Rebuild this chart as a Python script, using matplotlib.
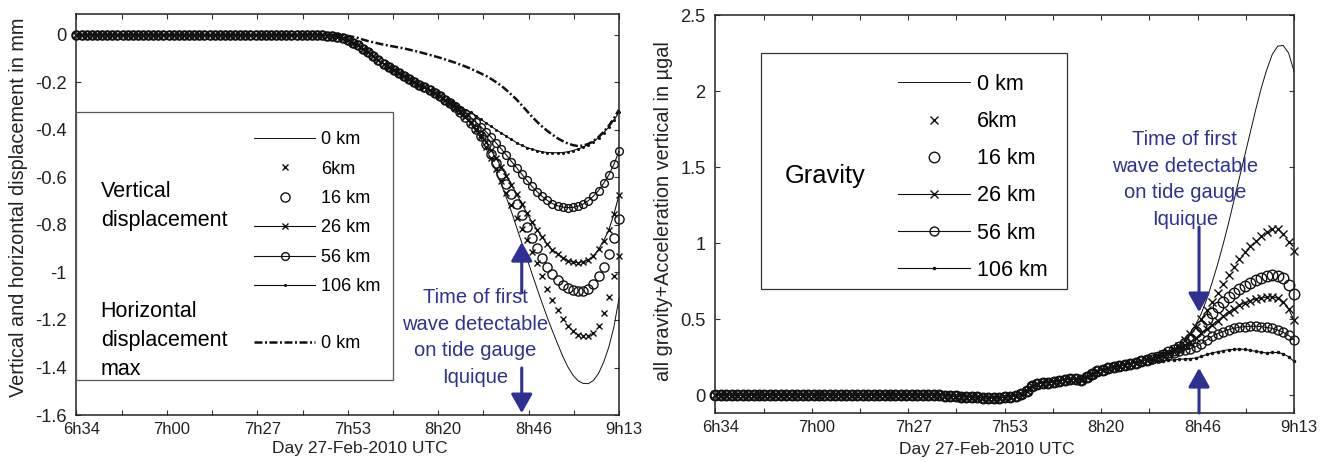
import numpy as np
import matplotlib.pyplot as plt
from matplotlib.patches import Rectangle
from matplotlib.transforms import ScaledTranslation

plt.rcParams['font.family'] = ['Liberation Sans', 'DejaVu Sans']

INK = '#111111'
BLUE = '#2e3192'

# time axis: minutes after 6h34, one sample every 1.5 min
t = np.arange(107) * 1.5
tick_pos = np.arange(13) * 13.25
tick_lab = ['6h34', '', '7h00', '', '7h27', '', '7h53', '', '8h20', '', '8h46', '', '9h13']
labels = ['0 km', '6km', '16 km', '26 km', '56 km', '106 km']

# ---- vertical displacement (mm), left panel ----
vert_start = [0.0] * 47 + [
    0.0, -0.001, -0.003, -0.006, -0.010, -0.015, -0.022, -0.032, -0.044, -0.058,
    -0.074, -0.090, -0.106, -0.122, -0.136, -0.149, -0.162, -0.174, -0.186, -0.197,
    -0.209, -0.221, -0.233, -0.246, -0.259, -0.272]
vert_0km = vert_start + [
    -0.289, -0.307, -0.326, -0.348, -0.374, -0.403, -0.435, -0.477, -0.525, -0.576,
    -0.630, -0.685, -0.745, -0.810, -0.875, -0.940, -1.005, -1.068, -1.130, -1.190,
    -1.246, -1.300, -1.352, -1.397, -1.432, -1.456, -1.467, -1.468, -1.455, -1.425,
    -1.378, -1.315, -1.230, -1.110]
vert_6km = vert_start + [
    -0.289, -0.306, -0.325, -0.347, -0.372, -0.400, -0.430, -0.470, -0.517, -0.565,
    -0.614, -0.666, -0.718, -0.770, -0.818, -0.865, -0.912, -0.962, -1.015, -1.068,
    -1.115, -1.157, -1.195, -1.225, -1.248, -1.262, -1.268, -1.266, -1.254, -1.224,
    -1.172, -1.105, -1.015, -0.930]
vert_16km = vert_start + [
    -0.288, -0.305, -0.324, -0.345, -0.370, -0.397, -0.425, -0.460, -0.500, -0.541,
    -0.584, -0.627, -0.670, -0.713, -0.760, -0.808, -0.855, -0.898, -0.938, -0.976,
    -1.006, -1.033, -1.053, -1.067, -1.075, -1.079, -1.076, -1.068, -1.048, -1.016,
    -0.975, -0.922, -0.856, -0.775]
vert_26km = vert_start + [
    -0.288, -0.304, -0.322, -0.343, -0.368, -0.394, -0.420, -0.451, -0.485, -0.520,
    -0.555, -0.594, -0.632, -0.670, -0.710, -0.749, -0.788, -0.820, -0.851, -0.882,
    -0.905, -0.922, -0.938, -0.950, -0.956, -0.959, -0.955, -0.947, -0.930, -0.903,
    -0.866, -0.822, -0.755, -0.675]
vert_56km = vert_start + [
    -0.285, -0.299, -0.314, -0.330, -0.347, -0.366, -0.386, -0.407, -0.430, -0.455,
    -0.480, -0.506, -0.533, -0.559, -0.586, -0.612, -0.638, -0.660, -0.680, -0.697,
    -0.710, -0.719, -0.725, -0.727, -0.726, -0.721, -0.712, -0.698, -0.679, -0.655,
    -0.625, -0.590, -0.545, -0.490]
vert_106km = vert_start + [
    -0.280, -0.292, -0.304, -0.316, -0.325, -0.340, -0.355, -0.370, -0.385, -0.399,
    -0.413, -0.427, -0.440, -0.454, -0.465, -0.474, -0.481, -0.487, -0.492, -0.495,
    -0.496, -0.496, -0.495, -0.492, -0.487, -0.480, -0.472, -0.462, -0.449, -0.432,
    -0.412, -0.388, -0.360, -0.325]
horiz_0km = [0.0] * 52 + [
    -0.001, -0.004, -0.008, -0.013, -0.020, -0.026, -0.031, -0.036, -0.041, -0.045,
    -0.049, -0.053, -0.057, -0.062, -0.067, -0.072, -0.078, -0.084, -0.090, -0.096,
    -0.103, -0.110, -0.117, -0.125, -0.133, -0.142, -0.152, -0.162, -0.172, -0.185,
    -0.199, -0.214, -0.232, -0.252, -0.272, -0.296, -0.320, -0.344, -0.366, -0.386,
    -0.404, -0.420, -0.435, -0.447, -0.457, -0.464, -0.468, -0.466, -0.459, -0.447,
    -0.430, -0.408, -0.383, -0.352, -0.315]

# ---- gravity + vertical acceleration (microgal), right panel ----
grav_start = [0.0] * 41 + [
    -0.002, -0.004, -0.006, -0.008, -0.010, -0.012, -0.014, -0.016, -0.018, -0.019,
    -0.020, -0.018, -0.015, -0.010, -0.003, 0.008, 0.030, 0.058, 0.074, 0.080,
    0.082, 0.085, 0.092, 0.100, 0.108, 0.104, 0.098, 0.118, 0.140, 0.158,
    0.167, 0.175, 0.182, 0.190, 0.198, 0.206, 0.214, 0.222, 0.231]
grav_0km = grav_start + [
    0.241, 0.253, 0.266, 0.281, 0.298, 0.335, 0.370, 0.410, 0.465, 0.535,
    0.630, 0.740, 0.860, 0.990, 1.130, 1.280, 1.430, 1.580, 1.730, 1.880,
    2.020, 2.140, 2.240, 2.295, 2.300, 2.250, 2.130]
grav_6km = grav_start + [
    0.241, 0.254, 0.268, 0.284, 0.300, 0.325, 0.360, 0.400, 0.450, 0.503,
    0.558, 0.615, 0.673, 0.733, 0.790, 0.843, 0.893, 0.938, 0.980, 1.016,
    1.047, 1.073, 1.090, 1.093, 1.058, 1.005, 0.948]
grav_16km = grav_start + [
    0.241, 0.253, 0.266, 0.281, 0.298, 0.318, 0.342, 0.372, 0.412, 0.455,
    0.498, 0.540, 0.578, 0.614, 0.646, 0.672, 0.698, 0.720, 0.740, 0.757,
    0.772, 0.783, 0.790, 0.786, 0.768, 0.725, 0.665]
grav_26km = grav_start + [
    0.241, 0.252, 0.264, 0.278, 0.294, 0.312, 0.330, 0.350, 0.375, 0.405,
    0.433, 0.462, 0.490, 0.518, 0.545, 0.568, 0.590, 0.608, 0.622, 0.632,
    0.639, 0.644, 0.646, 0.638, 0.614, 0.565, 0.495]
grav_56km = grav_start + [
    0.238, 0.247, 0.256, 0.266, 0.277, 0.287, 0.296, 0.305, 0.318, 0.338,
    0.362, 0.386, 0.404, 0.418, 0.430, 0.439, 0.446, 0.450, 0.452, 0.453,
    0.450, 0.445, 0.439, 0.428, 0.413, 0.393, 0.362]
grav_106km = grav_start + [
    0.226, 0.224, 0.225, 0.228, 0.232, 0.235, 0.238, 0.240, 0.244, 0.254,
    0.267, 0.277, 0.285, 0.292, 0.298, 0.301, 0.303, 0.300, 0.294, 0.288,
    0.282, 0.277, 0.280, 0.280, 0.272, 0.252, 0.222]


def styles(s):
    base = dict(color=INK, clip_on=False)
    return [
        dict(base, ls='-', lw=0.7),
        dict(base, ls='none', marker='x', ms=4.8 * s, mew=1.0),
        dict(base, ls='none', marker='o', ms=6.6 * s, mfc='none', mew=1.0),
        dict(base, ls='-', lw=0.8, marker='x', ms=4.8 * s, mew=1.0),
        dict(base, ls='-', lw=0.8, marker='o', ms=5.6 * s, mfc='none', mew=1.0),
        dict(base, ls='-', lw=0.8, marker='o', ms=2.2 * s, mew=0),
    ]


def setup_axes(ax, ylim, yticks, ylabels):
    ax.set_xlim(0, 159)
    ax.set_ylim(*ylim)
    ax.set_xticks(tick_pos)
    ax.set_xticklabels(tick_lab, fontsize=12, color='#222222')
    ax.set_yticks(yticks)
    ax.set_yticklabels(ylabels, fontsize=13.2, color='#222222')
    ax.tick_params(direction='in', top=True, right=True, length=3.5, width=0.8,
                   color='#333333')
    ax.tick_params(axis='x', pad=5)
    ax.tick_params(axis='y', pad=7)
    for sp in ax.spines.values():
        sp.set_linewidth(1.1)
        sp.set_color('#222222')
    shift = ScaledTranslation(5 / 100, 0, ax.figure.dpi_scale_trans)
    for lab in ax.get_xticklabels():
        lab.set_transform(lab.get_transform() + shift)


def arrow(ax, tip, tail):
    ax.annotate('', xy=tip, xytext=tail,
                arrowprops=dict(arrowstyle='-|>,head_length=1.15,head_width=0.65',
                                color=BLUE, lw=2.2, shrinkA=0, shrinkB=0,
                                mutation_scale=10))


fig = plt.figure(figsize=(13.32, 4.62), dpi=100)
ax1 = fig.add_axes([0.0574, 0.1017, 0.4073, 0.868])
ax2 = fig.add_axes([0.5370, 0.1054, 0.4345, 0.8621])

# ---------------- left panel ----------------
vert = [vert_0km, vert_6km, vert_16km, vert_26km, vert_56km, vert_106km]
h1 = [ax1.plot(t, v, **st)[0] for v, st in zip(vert, styles(1.0))]
hd = ax1.plot(t, horiz_0km, color=INK, lw=1.8, ls=(0, (3.2, 1.0, 0.8, 1.0)),
              clip_on=False)[0]

setup_axes(ax1, (-1.6, 0.088), np.arange(0, -1.61, -0.2),
           ['0', '-0.2', '-0.4', '-0.6', '-0.8', '-1', '-1.2', '-1.4', '-1.6'])
ax1.set_ylabel('Vertical and horizontal displacement in mm', fontsize=14.3,
               color='#222222')
ax1.yaxis.set_label_coords(-0.089, 0.519)
ax1.set_xlabel('Day 27-Feb-2010 UTC', fontsize=12.5, color='#222222')
ax1.xaxis.set_label_coords(0.5217, -0.066)

ax1.add_patch(Rectangle((0.0, 0.0873), 0.5829, 0.6676, transform=ax1.transAxes,
                        facecolor='white', edgecolor='#555555', lw=0.9, zorder=3))
ax1.text(0.0446, 0.521, 'Vertical\ndisplacement', transform=ax1.transAxes,
         fontsize=15.5, ha='left', va='center', linespacing=1.5, zorder=4)
ax1.text(0.0446, 0.187, 'Horizontal\ndisplacement\nmax', transform=ax1.transAxes,
         fontsize=15.5, ha='left', va='center', linespacing=1.5, zorder=4)
leg1 = ax1.legend(h1, labels, loc='upper left', bbox_to_anchor=(0.3277, 0.708),
                  frameon=False, fontsize=13, handlelength=3.36, handletextpad=0.32,
                  labelspacing=0.69, borderpad=0, borderaxespad=0)
leg1.set_zorder(5)
ax1.add_artist(leg1)
leg1b = ax1.legend([hd], ['0 km'], loc='upper left', bbox_to_anchor=(0.3277, 0.199),
                   frameon=False, fontsize=13, handlelength=3.36, handletextpad=0.32,
                   borderpad=0, borderaxespad=0)
leg1b.set_zorder(5)

ax1.text(116.8, -1.274, 'Time of first\nwave detectable\non tide gauge\nIquique',
         color=BLUE, fontsize=14.5, ha='center', va='center', linespacing=1.5)
arrow(ax1, (130.5, -0.872), (130.5, -1.086))
arrow(ax1, (130.5, -1.592), (130.5, -1.402))

# ---------------- right panel ----------------
grav = [grav_0km, grav_6km, grav_16km, grav_26km, grav_56km, grav_106km]
h2 = [ax2.plot(t, g, **st)[0] for g, st in zip(grav, styles(1.15))]

setup_axes(ax2, (-0.12, 2.5), [0, 0.5, 1, 1.5, 2, 2.5],
           ['0', '0.5', '1', '1.5', '2', '2.5'])
ax2.set_ylabel('all gravity+Acceleration vertical in µgal', fontsize=14.3,
               color='#222222')
ax2.yaxis.set_label_coords(-0.073, 0.507)
ax2.set_xlabel('Day 27-Feb-2010 UTC', fontsize=12.5, color='#222222')
ax2.xaxis.set_label_coords(0.4695, -0.071)

ax2.add_patch(Rectangle((0.0785, 0.3113), 0.5287, 0.594, transform=ax2.transAxes,
                        facecolor='white', edgecolor='#333333', lw=0.9, zorder=3))
ax2.text(0.1204, 0.5958, 'Gravity', transform=ax2.transAxes, fontsize=18.4,
         ha='left', va='center', zorder=4)
leg2 = ax2.legend(h2, labels, loc='upper left', bbox_to_anchor=(0.3162, 0.852),
                  frameon=False, fontsize=15.5, handlelength=3.33, handletextpad=0.31,
                  labelspacing=0.75, borderpad=0, borderaxespad=0)
leg2.set_zorder(5)

ax2.text(129.0, 1.418, 'Time of first\nwave detectable\non tide gauge\nIquique',
         color=BLUE, fontsize=14.5, ha='center', va='center', linespacing=1.5)
arrow(ax2, (132.9, 0.546), (132.9, 1.105))
arrow(ax2, (132.9, 0.178), (132.9, -0.118))

fig.savefig('out.png', dpi=100)
